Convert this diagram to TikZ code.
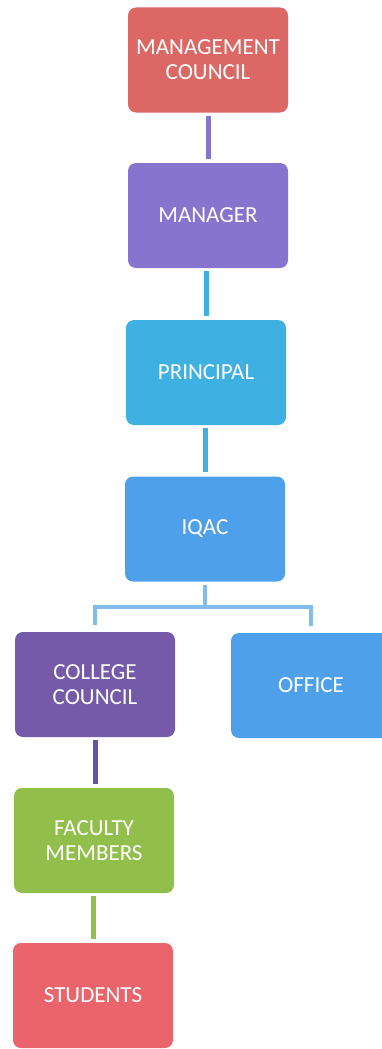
\documentclass[tikz,border=0pt]{standalone}
\usepackage{fontspec}
\setmainfont{Carlito}
\definecolor{mgmtred}{RGB}{219,104,100}
\definecolor{mgrpurple}{RGB}{134,116,206}
\definecolor{princyan}{RGB}{62,176,226}
\definecolor{iqacblue}{RGB}{78,160,234}
\definecolor{ccpurple}{RGB}{116,90,168}
\definecolor{facgreen}{RGB}{146,190,76}
\definecolor{studred}{RGB}{234,100,108}
\definecolor{branchblue}{RGB}{130,188,236}
\definecolor{linepurple}{RGB}{96,84,176}
\tikzset{
  box/.style={rounded corners=8pt,minimum width=160pt,minimum height=105pt,text=white,
    align=center,font=\fontsize{23}{25}\selectfont},
  link/.style={line width=5pt,shorten <=3pt,shorten >=4pt},
  branch/.style={line width=4pt,shorten <=3pt,shorten >=7pt,color=branchblue}
}
\begin{document}
\begin{tikzpicture}[x=1pt,y=1pt]
\useasboundingbox (0,0) rectangle (381,-1049);
\node[box,fill=mgmtred] (mgmt) at (208,-60) {MANAGEMENT\\COUNCIL};
\node[box,fill=mgrpurple] (manager) at (208,-215.5) {MANAGER};
\node[box,fill=princyan] (principal) at (206,-372.5) {PRINCIPAL};
\node[box,fill=iqacblue] (iqac) at (205,-529) {IQAC};
\node[box,fill=ccpurple] (college) at (95,-684.5) {COLLEGE\\COUNCIL};
\node[box,fill=iqacblue] (office) at (311,-685.5) {OFFICE};
\node[box,fill=facgreen] (faculty) at (94,-840.5) {FACULTY\\MEMBERS};
\node[box,fill=studred] (students) at (93,-995.5) {STUDENTS};
\draw[link,mgrpurple] (mgmt.south) -- (mgmt.south |- manager.north);
\draw[link,princyan] (manager.south -| principal.south) -- (principal.north);
\draw[link,princyan] (principal.south -| iqac.south) -- (iqac.north);
\draw[branch] (iqac.south) -- ++(0,-25) -| (college.north);
\draw[branch] (iqac.south) -- ++(0,-25) -| (office.north);
\draw[link,linepurple] (college.south) -- (college.south |- faculty.north);
\draw[link,facgreen] (faculty.south -| students.north) -- (students.north);
\end{tikzpicture}
\end{document}
